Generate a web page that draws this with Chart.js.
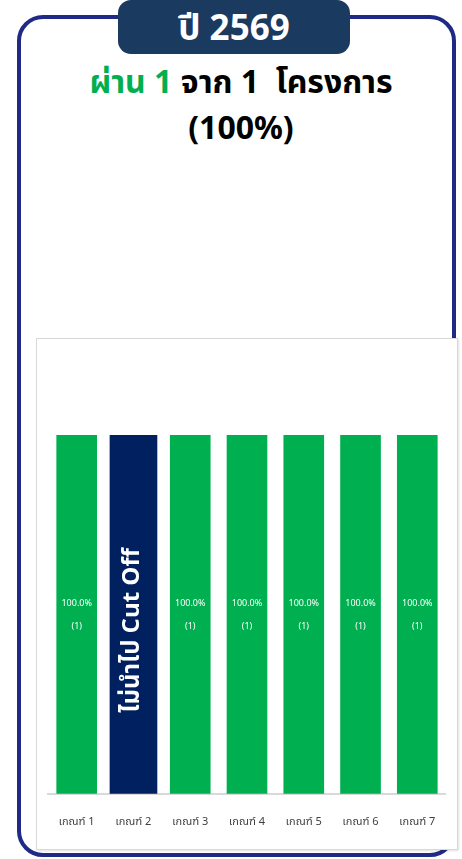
<!DOCTYPE html>
<html lang="th">
<head>
<meta charset="UTF-8">
<title>ปี 2569</title>
<script src="https://cdn.jsdelivr.net/npm/chart.js@4.4.1/dist/chart.umd.min.js"></script>
<style>
  html, body { margin: 0; padding: 0; background: #fff; }
  body { width: 462px; height: 859px; position: relative; overflow: hidden; font-family: "Noto Sans", "Noto Sans Thai", sans-serif; }
  .card {
    position: absolute; left: 17px; top: 15px; width: 431px; height: 834px;
    border: 4px solid #1f2a86; border-radius: 26px;
  }
  .pill {
    position: absolute; left: 118px; top: 0; width: 232px; height: 54px;
    background: #1b3a5f; border-radius: 13px; color: #fff;
    font-weight: bold; font-size: 35px; line-height: 54px; text-align: center;
  }
  .head {
    position: absolute; left: 0; width: 482px; top: 58px; text-align: center;
    font-weight: bold; font-size: 32px; line-height: 46px; color: #000;
  }
  .head .ok { color: #00b050; }
  .box {
    position: absolute; left: 36px; top: 338px; width: 420px; height: 510px;
    background: #fff; border: 1px solid #d9d9d9; box-shadow: 1px 1px 2px rgba(0,0,0,0.12);
  }
</style>
</head>
<body>
<div class="card"></div>
<div class="pill">ปี 2569</div>
<div class="head"><span class="ok">ผ่าน 1</span> จาก 1&nbsp; โครงการ<br>(100%)</div>
<div class="box"><canvas id="bars" width="420" height="510"></canvas></div>

<script>
const criteria = ["เกณฑ์ 1", "เกณฑ์ 2", "เกณฑ์ 3", "เกณฑ์ 4", "เกณฑ์ 5", "เกณฑ์ 6", "เกณฑ์ 7"];
const passPct = [100, null, 100, 100, 100, 100, 100];
const passCount = [1, null, 1, 1, 1, 1, 1];
const cutOffPct = [null, 100, null, null, null, null, null];
const cutOffText = "ไม่นำไป Cut Off";

// percentage + count written inside each green bar, rotated note inside the navy one
const barText = {
  id: "barText",
  afterDatasetsDraw(chart) {
    const ctx = chart.ctx;
    ctx.save();
    ctx.fillStyle = "#fff";
    ctx.textAlign = "center";
    ctx.textBaseline = "middle";
    chart.getDatasetMeta(0).data.forEach((bar, i) => {
      if (passPct[i] == null) return;
      const mid = (bar.y + bar.base) / 2;
      ctx.font = "9px 'Liberation Sans Narrow', 'Noto Sans', sans-serif";
      ctx.fillText(passPct[i].toFixed(1) + "%", bar.x, mid - 11);
      ctx.fillText("(" + passCount[i] + ")", bar.x, mid + 12);
    });
    chart.getDatasetMeta(1).data.forEach((bar, i) => {
      if (cutOffPct[i] == null) return;
      const mid = (bar.y + bar.base) / 2;
      ctx.translate(bar.x, mid + 16);
      ctx.rotate(-Math.PI / 2);
      ctx.font = "bold 24px 'Noto Sans Thai', 'Noto Sans', sans-serif";
      ctx.fillText(cutOffText, 0, 1);
    });
    ctx.restore();
  }
};

new Chart("bars", {
  type: "bar",
  data: {
    labels: criteria,
    datasets: [
      { data: passPct, backgroundColor: "#00b050", barThickness: 40, grouped: false },
      { data: cutOffPct, backgroundColor: "#002060", barThickness: 47, grouped: false }
    ]
  },
  options: {
    responsive: false,
    animation: false,
    layout: { padding: { top: 96, left: 11, right: 11, bottom: 0 } },
    plugins: { legend: { display: false }, tooltip: { enabled: false } },
    scales: {
      y: { display: false, min: 0, max: 100 },
      x: {
        grid: { display: false, drawTicks: false },
        border: { color: "#d9d9d9", width: 2 },
        ticks: { color: "#404040", padding: 21, font: { size: 11, family: "'Noto Sans', 'Noto Sans Thai', sans-serif" } }
      }
    }
  },
  plugins: [barText]
});
</script>
</body>
</html>
